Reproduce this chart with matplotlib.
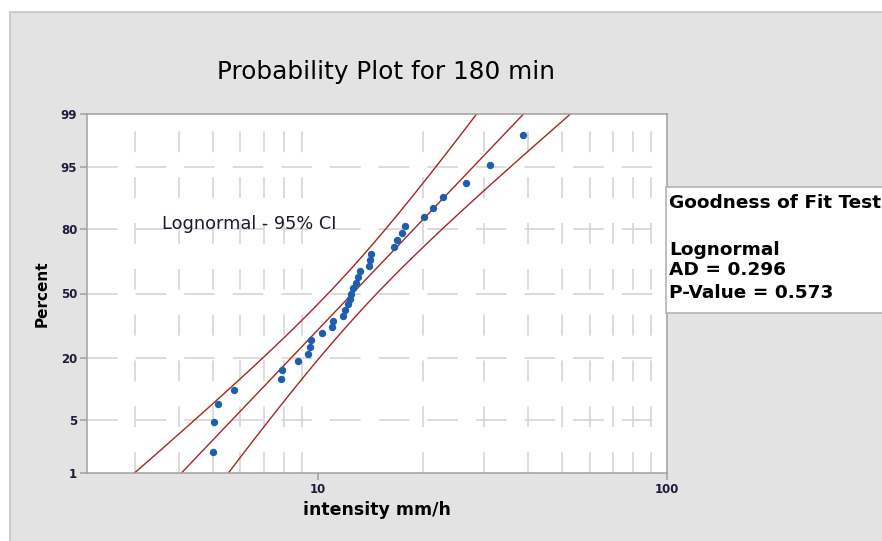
import numpy as np
import matplotlib.pyplot as plt
from matplotlib.patches import Rectangle
from matplotlib.ticker import FixedLocator, NullLocator
from statistics import NormalDist

# rainfall intensity samples for the 180 min duration (mm/h)
intensity = [5.01, 5.05, 5.16, 5.76, 7.82, 7.90, 8.76, 9.38, 9.46, 9.57,
             10.25, 10.95, 11.06, 11.82, 11.95, 12.19, 12.35, 12.47, 12.59,
             12.84, 13.05, 13.19, 14.03, 14.09, 14.19, 16.57, 16.84, 17.38,
             17.81, 20.16, 21.40, 22.77, 26.55, 31.10, 38.60]
percent_ticks = [1, 5, 20, 50, 80, 95, 99]
percent_grid = [5, 20, 50, 80, 95]
x_grid = [3, 4, 5, 6, 7, 8, 9, 20, 30, 40, 50, 60, 70, 80, 90]
x_ticks = [10, 100]

# lognormal fit: median and shape (natural log)
fit_median = 12.56
fit_sigma = 0.485
ad_stat = 0.296
p_value = 0.573

W, H = 882, 541
nd = NormalDist()
plt.rcParams['lines.scale_dashes'] = False


def px(x, y):
    return x / W, 1 - y / H


fig = plt.figure(figsize=(W / 100, H / 100), dpi=100, facecolor='white')

# grey panel behind the plot
fig.patches.append(Rectangle(px(10, 541 + 5), 1.2, (541 - 12 + 5) / H,
                             transform=fig.transFigure, facecolor='#e3e3e3',
                             edgecolor='#c4c4c4', linewidth=1.2, zorder=-5))

ax = fig.add_axes([87 / W, 1 - 473 / H, (667 - 87) / W, (473 - 114) / H])
ax.set_facecolor('white')

n = len(intensity)
xs = np.sort(np.array(intensity))
ranks = np.arange(1, n + 1)
zpts = np.array([nd.inv_cdf((i - 0.3) / (n + 0.4)) for i in ranks])

# grid
for g in x_grid:
    ax.axvline(g, color='#d6d6d6', linewidth=1.2, linestyle=(0, (15, 18)), zorder=0)
for p in percent_grid:
    ax.axhline(nd.inv_cdf(p / 100), color='#d6d6d6', linewidth=1.2,
               linestyle=(0, (22, 13)), zorder=0)

# fitted line with 95% confidence band
zz = np.linspace(-3.2, 3.2, 300)
mu = np.log(fit_median)
se = fit_sigma * np.sqrt(1 / n + zz ** 2 / (2 * n))
centre = mu + zz * fit_sigma
for curve in (centre - 1.96 * se, centre, centre + 1.96 * se):
    ax.plot(np.exp(curve), zz, color='#a52525', linewidth=1.0, zorder=2)

ax.plot(xs, zpts, linestyle='none', marker='o', markersize=4.3,
        color='#1c5eb0', zorder=3)

ax.set_xscale('log')
ax.set_xlim(2.18, 100)
ax.set_ylim(nd.inv_cdf(0.01), nd.inv_cdf(0.99))
ax.xaxis.set_major_locator(FixedLocator(x_ticks))
ax.xaxis.set_minor_locator(NullLocator())
ax.set_xticklabels([str(t) for t in x_ticks])
ax.set_yticks([nd.inv_cdf(p / 100) for p in percent_ticks])
ax.set_yticklabels([str(p) for p in percent_ticks])
ax.tick_params(axis='both', length=5, width=1.1, color='#a0a0a0',
               labelsize=8.5, labelcolor='#1c1c3c', pad=2)
for lab in ax.get_xticklabels() + ax.get_yticklabels():
    lab.set_fontweight('bold')

for s in ax.spines.values():
    s.set_color('#a0a0a0')
    s.set_linewidth(1.1)

ax.set_xlabel('intensity mm/h', fontsize=12.5, fontweight='bold', labelpad=4)
ax.set_ylabel('Percent', fontsize=11, fontweight='bold', labelpad=8)

fig.text(*px(386, 72), 'Probability Plot for 180 min', fontsize=17.8,
         ha='center', va='center', color='black')
fig.text(*px(162, 224), 'Lognormal - 95% CI', fontsize=12.8,
         ha='left', va='center', color='#1a1a2e')

# goodness of fit box on the right
fig.patches.append(Rectangle(px(666, 313), 1.0, (313 - 187) / H,
                             transform=fig.transFigure, facecolor='white',
                             edgecolor='#b4b4b4', linewidth=1.2, zorder=2))
gof = [(203, 'Goodness of Fit Test'), (250, 'Lognormal'),
       (270, 'AD = %.3f' % ad_stat), (293, 'P-Value = %.3f' % p_value)]
for y, t in gof:
    fig.text(*px(669, y), t, fontsize=13.3, fontweight='bold',
             ha='left', va='center', color='black', zorder=3)

fig.savefig('out.png', dpi=100)
